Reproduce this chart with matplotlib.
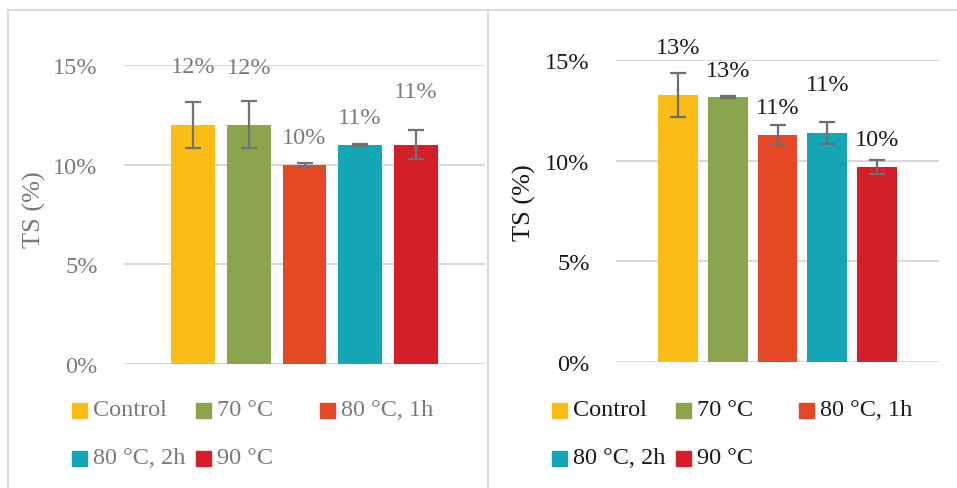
import numpy as np
import matplotlib
matplotlib.use('Agg')
import matplotlib.pyplot as plt
from matplotlib.patches import Rectangle
from matplotlib.lines import Line2D

# Plot parameters
plt.rcParams.update({
    'font.family': 'Liberation Serif',
    'font.size': 17.5,
})

# Data
categories = ['Control', '70 °C', '80 °C, 1h', '80 °C, 2h', '90 °C']
colors = ['#FBBC15', '#8AA54C', '#E64825', '#14A6B5', '#D41F29']

ts_left = [12.0, 12.0, 10.0, 11.0, 11.0]
err_left = [1.15, 1.18, 0.06, 0.06, 0.72]
labels_left = ['12%', '12%', '10%', '11%', '11%']

ts_right = [13.26, 13.16, 11.28, 11.38, 9.69]
err_right = [1.07, 0.03, 0.47, 0.56, 0.33]
labels_right = ['13%', '13%', '11%', '11%', '10%']

yticks = [0, 5, 10, 15]

# label offsets above bar top (px)
off_left = [58, 57, 27, 27, 53]
off_right = [48, 27, 27, 48, 27]

W, H = 957, 489
fig = plt.figure(figsize=(W / 100, H / 100), dpi=100)


def fx(px):
    return px / W


def fy(py):
    return 1 - py / H


def panel(box, vals, errs, labels, offs, xlim, width, tcolor, ecolor, ylab_xy):
    x0, x1, ytop, ybot = box
    ax = fig.add_axes([fx(x0), fy(ybot), fx(x1) - fx(x0), fy(ytop) - fy(ybot)])
    x = np.arange(len(vals))
    ax.bar(x, vals, width=width, color=colors, zorder=2)
    ax.errorbar(x, vals, yerr=errs, fmt='none', ecolor=ecolor, elinewidth=1.6,
                capsize=6, capthick=1.6, zorder=3)
    for xi, v, lab, o in zip(x, vals, labels, offs):
        ax.annotate(lab, (xi, v), xytext=(0, o * 0.72), textcoords='offset points',
                    ha='center', va='center', color=tcolor, annotation_clip=False)
    ax.set_xlim(*xlim)
    ax.set_ylim(0, 15)
    ax.set_yticks(yticks)
    ax.set_yticklabels([f'{t}%' for t in yticks])
    ax.set_xticks([])
    ax.tick_params(axis='y', length=0, pad=19, colors=tcolor, labelsize=17.5)
    ax.grid(axis='y', color='#d9d9d9', linewidth=1.5, zorder=0)
    ax.set_axisbelow(True)
    for s in ax.spines.values():
        s.set_visible(False)
    ax.set_ylabel('TS (%)', color=tcolor, fontsize=19)
    ax.yaxis.set_label_coords(*ylab_xy)
    return ax


def legend(x_cols, tcolor):
    rows = [411, 459]
    for i, (lab, c) in enumerate(zip(categories, colors)):
        r, col = divmod(i, 3)
        px, py = x_cols[col], rows[r]
        fig.add_artist(Rectangle((fx(px), fy(py + 7.5)), fx(15), 15 / H,
                                 color=c, transform=fig.transFigure))
        fig.text(fx(px + 21), fy(py), lab, ha='left', va='center', color=tcolor,
                 fontsize=17.5)


gray = '#7a7a7a'
panel((124, 485, 66, 365), ts_left, err_left, labels_left, off_left,
      (-1.25, 5.25), 0.79, gray, '#737373', (-0.215, 0.52))
panel((616, 939, 61, 363), ts_right, err_right, labels_right, off_right,
      (-1.24, 5.24), 0.8, '#1a1a1a', '#6e6e6e', (-0.248, 0.53))

legend([72, 196, 320], gray)
legend([552, 676, 799], '#1a1a1a')

# frame lines
fc = '#d9d9d9'
fig.add_artist(Line2D([fx(8), fx(8)], [fy(11), 0], color=fc, lw=1.5))
fig.add_artist(Line2D([fx(8), 1], [fy(11), fy(11)], color=fc, lw=1.5))
fig.add_artist(Line2D([fx(488), fx(488)], [fy(11), 0], color=fc, lw=1.5))

plt.savefig('out.png', dpi=100)
